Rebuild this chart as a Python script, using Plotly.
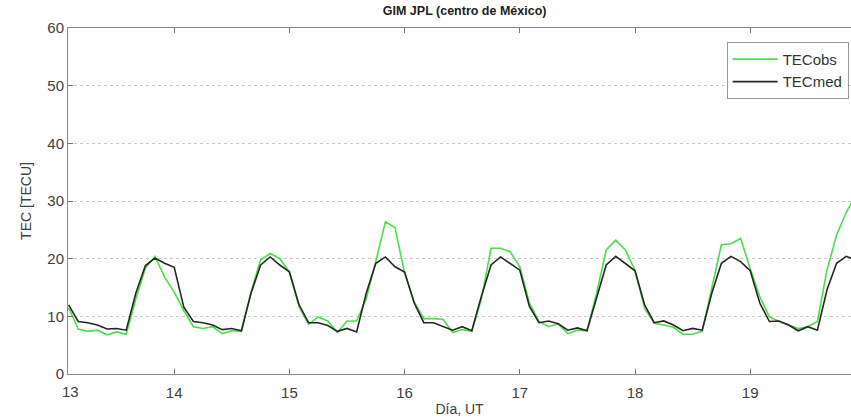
import numpy as np
import plotly.graph_objects as go

# 2-hour GIM cadence, starting 13 Oct 02 UT
start_day = 13 + 2 / 24
step_day = 2 / 24

tec_obs = [
    11.5, 7.8, 7.4, 7.6, 6.8, 7.3, 6.9, 13.0, 18.4, 20.4, 16.8,
    14.2, 11.0, 8.2, 7.9, 8.2, 7.0, 7.5, 7.4, 14.2, 19.8, 20.9, 20.0,
    17.7, 11.7, 8.6, 9.9, 9.2, 7.2, 9.2, 9.2, 13.0, 19.5, 26.4, 25.4,
    17.5, 12.5, 9.6, 9.6, 9.5, 7.2, 7.7, 7.4, 13.0, 21.8, 21.8, 21.2,
    18.6, 12.3, 9.1, 8.2, 8.7, 7.0, 7.6, 7.5, 14.0, 21.5, 23.2, 21.5,
    18.0, 11.4, 8.8, 8.5, 8.1, 6.9, 6.9, 7.4, 15.0, 22.4, 22.6, 23.5,
    18.3, 13.4, 9.9, 9.1, 8.5, 7.9, 8.2, 9.1, 18.0, 24.1, 28.0, 31.0,
]
tec_med = [
    12.0, 9.1, 8.9, 8.5, 7.8, 7.9, 7.6, 14.0, 18.8, 20.1, 19.2,
    18.5, 11.6, 9.1, 8.9, 8.5, 7.7, 7.9, 7.5, 14.0, 18.9, 20.3, 18.9,
    17.7, 12.0, 8.9, 8.9, 8.4, 7.4, 7.9, 7.3, 14.0, 19.2, 20.3, 18.6,
    17.7, 12.3, 8.9, 8.9, 8.2, 7.6, 8.2, 7.5, 13.5, 18.9, 20.3, 19.2,
    18.0, 11.7, 8.9, 9.2, 8.7, 7.6, 8.0, 7.5, 13.4, 18.9, 20.4, 19.2,
    17.9, 12.0, 8.9, 9.2, 8.5, 7.5, 7.9, 7.6, 14.0, 19.2, 20.4, 19.5,
    17.9, 12.3, 9.1, 9.2, 8.5, 7.5, 8.2, 7.6, 14.6, 19.2, 20.4, 19.8,
]
day_ticks = [14, 15, 16, 17, 18, 19]
tec_ticks = [0, 10, 20, 30, 40, 50, 60]

t = start_day + step_day * np.arange(len(tec_obs))

fig = go.Figure()
fig.add_trace(go.Scatter(x=t, y=tec_obs, mode="lines", name="TECobs",
                         line=dict(color="#4ade4a", width=1.6)))
fig.add_trace(go.Scatter(x=t, y=tec_med, mode="lines", name="TECmed",
                         line=dict(color="#262626", width=1.6)))

font_fam = "Liberation Sans, Arial, sans-serif"
fig.update_layout(
    width=851, height=418,
    margin=dict(l=68, r=0, t=28, b=44),
    paper_bgcolor="white", plot_bgcolor="white",
    font=dict(family=font_fam, size=15, color="#404040"),
    title=dict(text="<b>GIM JPL (centro de México)</b>", x=0.546, xanchor="center",
               y=0.985, yanchor="top", font=dict(size=12.5, color="#222")),
    legend=dict(x=0.997, y=0.96, xanchor="right", yanchor="top",
                bgcolor="white", bordercolor="#999", borderwidth=1,
                font=dict(size=15, color="#333"), tracegroupgap=0,
                itemwidth=45),
    showlegend=True,
)
fig.update_xaxes(
    range=[13.078, 19.875], tickvals=day_ticks, ticks="inside", ticklen=5,
    tickcolor="#777", showline=True, linecolor="#888", linewidth=1,
    mirror="ticks", showgrid=False, zeroline=False, ticklabelstandoff=5,
    tickfont=dict(size=15),
    title=dict(text="Día, UT", standoff=4, font=dict(size=14, color="#404040")),
)
fig.update_yaxes(
    range=[0, 60], tickvals=tec_ticks, ticks="inside", ticklen=5,
    tickcolor="#777", showline=True, linecolor="#888", linewidth=1,
    mirror=True, showgrid=True, gridcolor="#c8c8c8", griddash="dot",
    gridwidth=1, zeroline=False, tickfont=dict(size=15),
    title=dict(text="TEC [TECU]", standoff=12, font=dict(size=14, color="#404040")),
)
# first day label sits at the left edge of the axis
fig.add_annotation(x=0, xref="paper", xshift=-8, y=0, yref="paper", yanchor="top",
                   yshift=-7, text="13", showarrow=False,
                   font=dict(size=15, color="#404040"))

fig.write_html("out.html")
